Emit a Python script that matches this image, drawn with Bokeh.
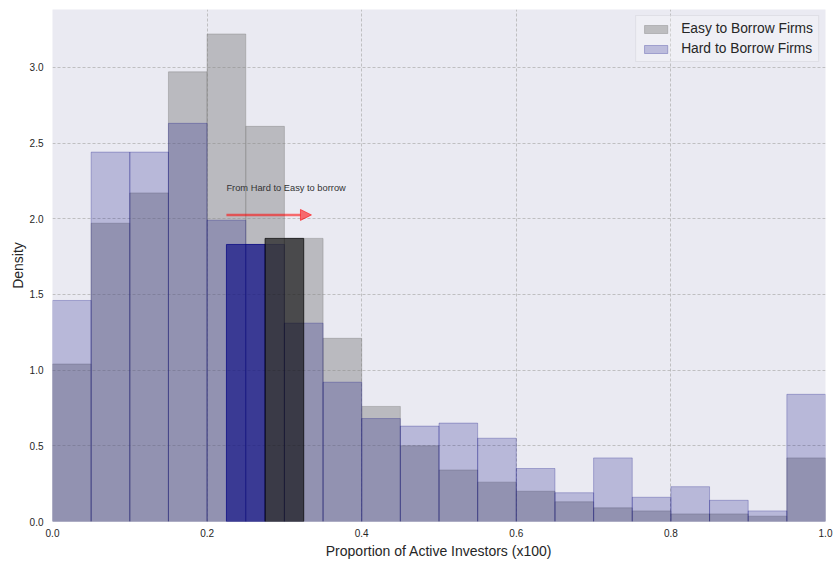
import numpy as np
from bokeh.plotting import figure
from bokeh.models import (Range1d, FixedTicker, Arrow, NormalHead, Legend,
                          LegendItem, PrintfTickFormatter)
from bokeh.core.properties import value
from bokeh.embed import file_html
from bokeh.resources import INLINE

# Histogram bins (20 equal-width bins on [0, 1])
bin_edges = [round(0.05 * i, 2) for i in range(21)]

# Density per bin
easy_density = [1.04, 1.97, 2.17, 2.97, 3.22, 2.61, 1.87, 1.21, 0.76, 0.50,
                0.34, 0.26, 0.20, 0.13, 0.09, 0.07, 0.05, 0.05, 0.035, 0.42]
hard_density = [1.46, 2.44, 2.44, 2.63, 1.99, 1.83, 1.31, 0.92, 0.68, 0.63,
                0.65, 0.55, 0.35, 0.19, 0.42, 0.16, 0.23, 0.14, 0.07, 0.84]

# Highlighted bins showing the shift between groups
moved_left = [0.225, 0.275]
moved_right = [0.275, 0.325]
moved_density = [1.83, 1.87]
moved_colors = ["navy", "black"]

# Annotation
note_text = "From Hard to Easy to borrow"
note_x, note_y = 0.225, 2.2
arrow_x = [0.225, 0.335]
arrow_y = 2.025

x_ticks = [0.0, 0.2, 0.4, 0.6, 0.8, 1.0]
y_ticks = [0.0, 0.5, 1.0, 1.5, 2.0, 2.5, 3.0]

FONT = "Liberation Sans"
TEXT = "#262626"

p = figure(width=835, height=561, output_backend="svg", toolbar_location=None,
           x_range=Range1d(0, 1), y_range=Range1d(0, 3.382),
           min_border_left=52, min_border_right=10, min_border_top=9,
           min_border_bottom=39)
p.background_fill_color = "#eaeaf2"
p.border_fill_color = "white"
p.outline_line_color = None

left = bin_edges[:-1]
right = bin_edges[1:]

easy = p.quad(left=left, right=right, bottom=0, top=easy_density,
              fill_color="gray", fill_alpha=0.45,
              line_color="gray", line_alpha=0.4, line_width=1)
hard = p.quad(left=left, right=right, bottom=0, top=hard_density,
              fill_color="navy", fill_alpha=0.21,
              line_color="navy", line_alpha=0.25, line_width=1)

p.quad(left=moved_left, right=moved_right, bottom=0, top=moved_density,
       fill_color=moved_colors, fill_alpha=0.6,
       line_color=moved_colors, line_alpha=0.7, line_width=1)

p.text(x=[note_x], y=[note_y], text=[note_text],
       text_font=value(FONT), text_font_size="9.3px", text_color="#333333",
       text_baseline="middle", text_align="left")

p.add_layout(Arrow(end=NormalHead(size=11, fill_color="red", fill_alpha=0.55,
                                  line_color="red", line_alpha=0.55),
                   x_start=arrow_x[0], y_start=arrow_y,
                   x_end=arrow_x[1], y_end=arrow_y,
                   line_color="red", line_alpha=0.55, line_width=2.5))

# Axes
for ax in (p.xaxis, p.yaxis):
    ax.axis_line_color = None
    ax.major_tick_line_color = None
    ax.minor_tick_line_color = None
    ax.major_tick_out = 0
    ax.major_tick_in = 0
    ax.major_label_text_font = FONT
    ax.major_label_text_font_size = "10px"
    ax.major_label_text_color = TEXT
    ax.axis_label_text_font = FONT
    ax.axis_label_text_font_size = "14px"
    ax.axis_label_text_font_style = "normal"
    ax.axis_label_text_color = TEXT
    ax.formatter = PrintfTickFormatter(format="%.1f")

p.xaxis.ticker = FixedTicker(ticks=x_ticks)
p.yaxis.ticker = FixedTicker(ticks=y_ticks)
p.xaxis.axis_label = "Proportion of Active Investors (x100)"
p.yaxis.axis_label = "Density"
p.xaxis.major_label_standoff = 7
p.yaxis.major_label_standoff = 9
p.xaxis.axis_label_standoff = 3
p.yaxis.axis_label_standoff = 1

# Grid
p.xgrid.ticker = FixedTicker(ticks=x_ticks)
p.ygrid.ticker = FixedTicker(ticks=y_ticks)
for g in (p.xgrid, p.ygrid):
    g.grid_line_color = "#b4b4b4"
    g.grid_line_width = 0.8
    g.grid_line_dash = "3 2"

legend = Legend(items=[LegendItem(label="Easy to Borrow Firms", renderers=[easy]),
                       LegendItem(label="Hard to Borrow Firms", renderers=[hard])],
                location="top_right")
legend.margin = 6
legend.padding = 5
legend.spacing = 5
legend.glyph_width = 29
legend.glyph_height = 10
legend.label_standoff = 11
legend.label_height = 14
legend.label_text_font = FONT
legend.label_text_font_size = "13.8px"
legend.label_text_color = TEXT
legend.background_fill_color = "white"
legend.background_fill_alpha = 0.25
legend.border_line_color = "#d0d0d8"
legend.border_line_width = 1
p.add_layout(legend)

open("out.html", "w").write(file_html(p, INLINE))
